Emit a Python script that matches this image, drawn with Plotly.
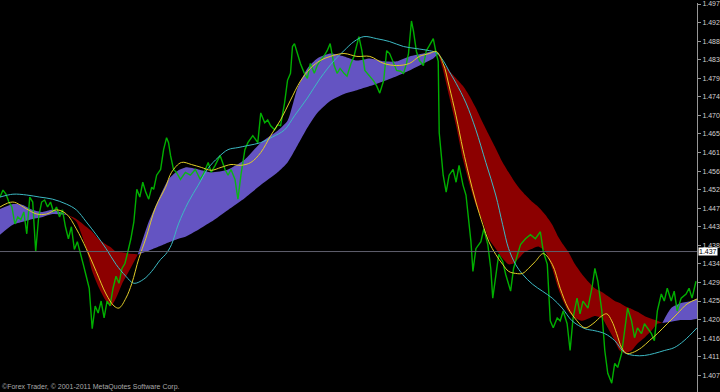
import plotly.graph_objects as go

# ---------------- data (bar index, price) ----------------
price_x = [0,3,6,9,12,15,18,21,24,27,30,33,36,39,42,45,48,51,54,57,60,63,66,69,72,75,78,81,84,87,90,93,96,99,102,105,108,111,114,117,120,123,126,129,132,135,138,141,144,147,150,153,155,158,162,165,168,170,172,175,178,182,187,192,197,202,205,210,213,217,222,227,230,233,237,240,243,247,250,255,260,263,267,270,273,277,280,283,287,290,293,295,297,300,303,307,310,313,317,320,323,327,330,333,337,340,343,347,350,354,357,362,365,368,373,377,380,383,387,390,393,397,400,404,407,410,412,415,417,420,423,427,430,433,437,440,442,443,445,447,450,453,457,460,463,467,470,472,475,477,480,485,488,492,495,497,500,503,507,510,515,518,522,525,530,535,540,545,548,552,555,558,562,565,568,572,575,578,582,585,588,593,597,600,603,607,610,613,617,620,623,627,630,633,637,640,643,647,650,653,657,660,663,667,670,673,677,680,683,687,692,695,698,702]
price = [1.4502,1.4519,1.4509,1.4490,1.4478,1.4437,1.4454,1.4447,1.4466,1.4413,1.4502,1.4490,1.4370,1.4454,1.4490,1.4495,1.4478,1.4490,1.4466,1.4478,1.4454,1.4471,1.4430,1.4401,1.4430,1.4375,1.4394,1.4363,1.4339,1.4310,1.4281,1.4183,1.4238,1.4221,1.4250,1.4209,1.4250,1.4238,1.4281,1.4310,1.4293,1.4329,1.4341,1.4370,1.4401,1.4442,1.4521,1.4502,1.4538,1.4514,1.4497,1.4526,1.4521,1.4555,1.4569,1.4617,1.4646,1.4634,1.4603,1.4569,1.4562,1.4545,1.4562,1.4555,1.4569,1.4545,1.4557,1.4586,1.4562,1.4579,1.4603,1.4569,1.4555,1.4569,1.4545,1.4497,1.4555,1.4617,1.4634,1.4651,1.4634,1.4706,1.4682,1.4689,1.4675,1.4665,1.4677,1.4675,1.4730,1.4785,1.4802,1.4867,1.4874,1.4850,1.4826,1.4802,1.4790,1.4826,1.4802,1.4821,1.4833,1.4845,1.4857,1.4874,1.4821,1.4802,1.4814,1.4802,1.4795,1.4826,1.4843,1.4891,1.4857,1.4809,1.4795,1.4783,1.4771,1.4754,1.4785,1.4857,1.4850,1.4826,1.4809,1.4807,1.4802,1.4826,1.4850,1.4929,1.4905,1.4855,1.4833,1.4821,1.4857,1.4869,1.4886,1.4850,1.4831,1.4658,1.4610,1.4555,1.4514,1.4555,1.4569,1.4538,1.4579,1.4531,1.4507,1.4459,1.4394,1.4322,1.4377,1.4394,1.4425,1.4387,1.4329,1.4257,1.4315,1.4363,1.4346,1.4315,1.4274,1.4329,1.4363,1.4387,1.4401,1.4411,1.4401,1.4418,1.4370,1.4339,1.4202,1.4185,1.4209,1.4202,1.4226,1.4195,1.4130,1.4209,1.4257,1.4219,1.4250,1.4233,1.4281,1.4329,1.4298,1.4226,1.4130,1.4075,1.4051,1.4099,1.4089,1.4123,1.4178,1.4233,1.4202,1.4161,1.4185,1.4171,1.4195,1.4185,1.4171,1.4154,1.4226,1.4267,1.4250,1.4281,1.4250,1.4274,1.4226,1.4257,1.4267,1.4281,1.4257,1.4298]

ma_fast_x = [0,13,27,37,47,57,67,77,87,97,107,115,120,127,133,140,147,157,167,173,183,193,203,213,223,233,243,253,263,273,283,293,303,313,323,333,347,360,373,387,400,413,423,433,440,447,453,460,467,473,480,487,493,500,507,513,520,527,533,540,548,557,565,573,582,590,598,607,612,617,622,627,632,638,647,655,663,673,683,693,703]
ma_fast = [1.4478,1.4490,1.4473,1.4461,1.4461,1.4471,1.4461,1.4425,1.4377,1.4322,1.4267,1.4238,1.4233,1.4257,1.4293,1.4353,1.4401,1.4478,1.4526,1.4562,1.4586,1.4581,1.4574,1.4567,1.4574,1.4581,1.4579,1.4586,1.4610,1.4651,1.4689,1.4737,1.4783,1.4814,1.4833,1.4843,1.4850,1.4843,1.4843,1.4826,1.4821,1.4826,1.4843,1.4850,1.4855,1.4826,1.4771,1.4699,1.4617,1.4555,1.4490,1.4435,1.4394,1.4363,1.4339,1.4322,1.4317,1.4317,1.4329,1.4346,1.4365,1.4339,1.4281,1.4233,1.4202,1.4185,1.4195,1.4214,1.4219,1.4202,1.4171,1.4137,1.4123,1.4125,1.4137,1.4154,1.4171,1.4195,1.4219,1.4243,1.4255]

ma_slow_x = [0,13,27,40,53,67,77,87,97,107,117,127,135,145,153,162,167,173,180,190,200,210,220,230,240,250,263,275,287,297,310,323,337,347,357,367,380,393,407,420,433,440,447,453,460,470,480,490,500,507,513,520,527,537,547,557,567,577,590,600,610,620,630,640,650,660,670,680,690,703]
ma_slow = [1.4502,1.4509,1.4507,1.4502,1.4497,1.4485,1.4471,1.4442,1.4411,1.4377,1.4339,1.4310,1.4293,1.4303,1.4322,1.4351,1.4363,1.4387,1.4437,1.4490,1.4531,1.4572,1.4598,1.4617,1.4622,1.4627,1.4634,1.4648,1.4665,1.4699,1.4742,1.4790,1.4833,1.4857,1.4879,1.4891,1.4886,1.4879,1.4867,1.4862,1.4857,1.4852,1.4833,1.4807,1.4778,1.4730,1.4665,1.4586,1.4507,1.4435,1.4377,1.4339,1.4315,1.4291,1.4274,1.4257,1.4233,1.4202,1.4183,1.4178,1.4171,1.4154,1.4125,1.4118,1.4118,1.4123,1.4130,1.4137,1.4154,1.4185]

band_x = [0,13,23,33,43,53,68,77,87,93,100,107,112,117,123,130,139,150,160,170,180,187,200,213,230,247,263,280,290,300,310,320,333,347,360,373,387,400,413,427,437,442,447,453,460,467,473,480,487,493,500,507,513,518,523,530,537,543,550,557,563,568,573,580,587,593,600,607,613,620,625,630,637,643,650,657,663,668,677,687,697,703]
band_fast = [1.4473,1.4485,1.4483,1.4471,1.4466,1.4471,1.4459,1.4442,1.4377,1.4322,1.4281,1.4250,1.4238,1.4257,1.4291,1.4322,1.4363,1.4442,1.4497,1.4545,1.4567,1.4574,1.4569,1.4562,1.4569,1.4593,1.4634,1.4663,1.4687,1.4766,1.4814,1.4838,1.4850,1.4843,1.4833,1.4838,1.4831,1.4831,1.4843,1.4850,1.4855,1.4850,1.4809,1.4747,1.4675,1.4593,1.4538,1.4483,1.4442,1.4401,1.4377,1.4353,1.4339,1.4341,1.4353,1.4370,1.4377,1.4382,1.4370,1.4329,1.4281,1.4250,1.4226,1.4209,1.4202,1.4207,1.4214,1.4209,1.4185,1.4154,1.4130,1.4123,1.4130,1.4147,1.4161,1.4178,1.4195,1.4197,1.4233,1.4245,1.4250,1.4255]
band_slow = [1.4411,1.4435,1.4442,1.4449,1.4454,1.4461,1.4459,1.4449,1.4430,1.4418,1.4399,1.4387,1.4380,1.4370,1.4368,1.4365,1.4363,1.4372,1.4382,1.4392,1.4401,1.4406,1.4423,1.4442,1.4471,1.4500,1.4531,1.4562,1.4586,1.4627,1.4670,1.4706,1.4735,1.4752,1.4761,1.4771,1.4783,1.4795,1.4809,1.4826,1.4838,1.4850,1.4826,1.4809,1.4790,1.4771,1.4749,1.4718,1.4682,1.4653,1.4620,1.4586,1.4562,1.4543,1.4526,1.4507,1.4490,1.4478,1.4459,1.4435,1.4406,1.4387,1.4370,1.4339,1.4315,1.4298,1.4281,1.4272,1.4262,1.4250,1.4245,1.4238,1.4231,1.4224,1.4214,1.4207,1.4202,1.4197,1.4200,1.4204,1.4204,1.4207]

level_line = 1.4370
tick_vals = [1.4970,1.4925,1.4880,1.4835,1.4790,1.4745,1.4700,1.4655,1.4610,1.4565,1.4520,1.4475,1.4430,1.4385,1.4340,1.4295,1.4250,1.4205,1.4160,1.4115,1.4070]
tick_text = ["1.497","1.492","1.488","1.483","1.479","1.474","1.470","1.465","1.461","1.456","1.452","1.447","1.443","1.438","1.434","1.429","1.425","1.420","1.416","1.411","1.407"]
level_label = "1.437"
copyright_text = "©Forex Trader, © 2001-2011 MetaQuotes Software Corp."

# ---------------- figure ----------------
UP_COLOR = "rgb(100,84,194)"
DN_COLOR = "rgb(140,0,0)"

fig = go.Figure()

# split the band at crossings (where fast == slow)
cross = [0] + [i for i in range(1, len(band_x) - 1) if band_fast[i] == band_slow[i]] + [len(band_x) - 1]
for a, b in zip(cross[:-1], cross[1:]):
    xs = band_x[a:b + 1]
    fs = band_fast[a:b + 1]
    ss = band_slow[a:b + 1]
    mid = (a + b) // 2
    up = band_fast[mid] >= band_slow[mid]
    col = UP_COLOR if up else DN_COLOR
    fig.add_trace(go.Scatter(x=xs, y=ss, mode="lines", line=dict(width=0, shape="spline", smoothing=0.6),
                             hoverinfo="skip", showlegend=False))
    fig.add_trace(go.Scatter(x=xs, y=fs, mode="lines", line=dict(width=0, shape="spline", smoothing=0.6),
                             fill="tonexty", fillcolor=col, hoverinfo="skip", showlegend=False))

fig.add_trace(go.Scatter(x=price_x, y=price, mode="lines", line=dict(color="rgb(0,195,0)", width=1.4),
                         opacity=0.9, showlegend=False))
fig.add_trace(go.Scatter(x=ma_slow_x, y=ma_slow, mode="lines",
                         line=dict(color="rgb(60,185,195)", width=1, shape="spline", smoothing=1.0),
                         showlegend=False))
fig.add_trace(go.Scatter(x=ma_fast_x, y=ma_fast, mode="lines",
                         line=dict(color="rgb(225,205,40)", width=1, shape="spline", smoothing=1.0),
                         showlegend=False))

fig.add_shape(type="line", xref="paper", x0=0, x1=1, yref="y", y0=level_line, y1=level_line,
              line=dict(color="rgb(95,95,110)", width=1))

fig.add_annotation(xref="paper", x=1, xanchor="left", xshift=1, yref="y", y=level_line, yanchor="middle",
                   text=level_label, showarrow=False, bgcolor="white",
                   font=dict(family="Liberation Sans", size=7, color="black"), borderpad=0)

fig.add_annotation(xref="paper", x=0, xanchor="left", yref="paper", y=0, yanchor="bottom", yshift=-1,
                   text=copyright_text, showarrow=False,
                   font=dict(family="Liberation Sans", size=7, color="rgb(170,170,170)"))

fig.update_layout(
    width=720, height=392,
    margin=dict(l=0, r=17, t=0, b=0),
    paper_bgcolor="black", plot_bgcolor="black",
    showlegend=False,
    xaxis=dict(range=[0, 703], visible=False, showgrid=False, zeroline=False),
    yaxis=dict(range=[1.40295, 1.49725], side="right", showgrid=False, zeroline=False,
               showline=True, linecolor="rgb(150,150,150)", linewidth=1,
               ticks="outside", ticklen=3, tickcolor="rgb(150,150,150)",
               tickvals=tick_vals, ticktext=tick_text, ticklabeloverflow="allow",
               tickfont=dict(family="Liberation Sans", size=7, color="rgb(210,210,210)")),
)

fig.write_html("out.html")
